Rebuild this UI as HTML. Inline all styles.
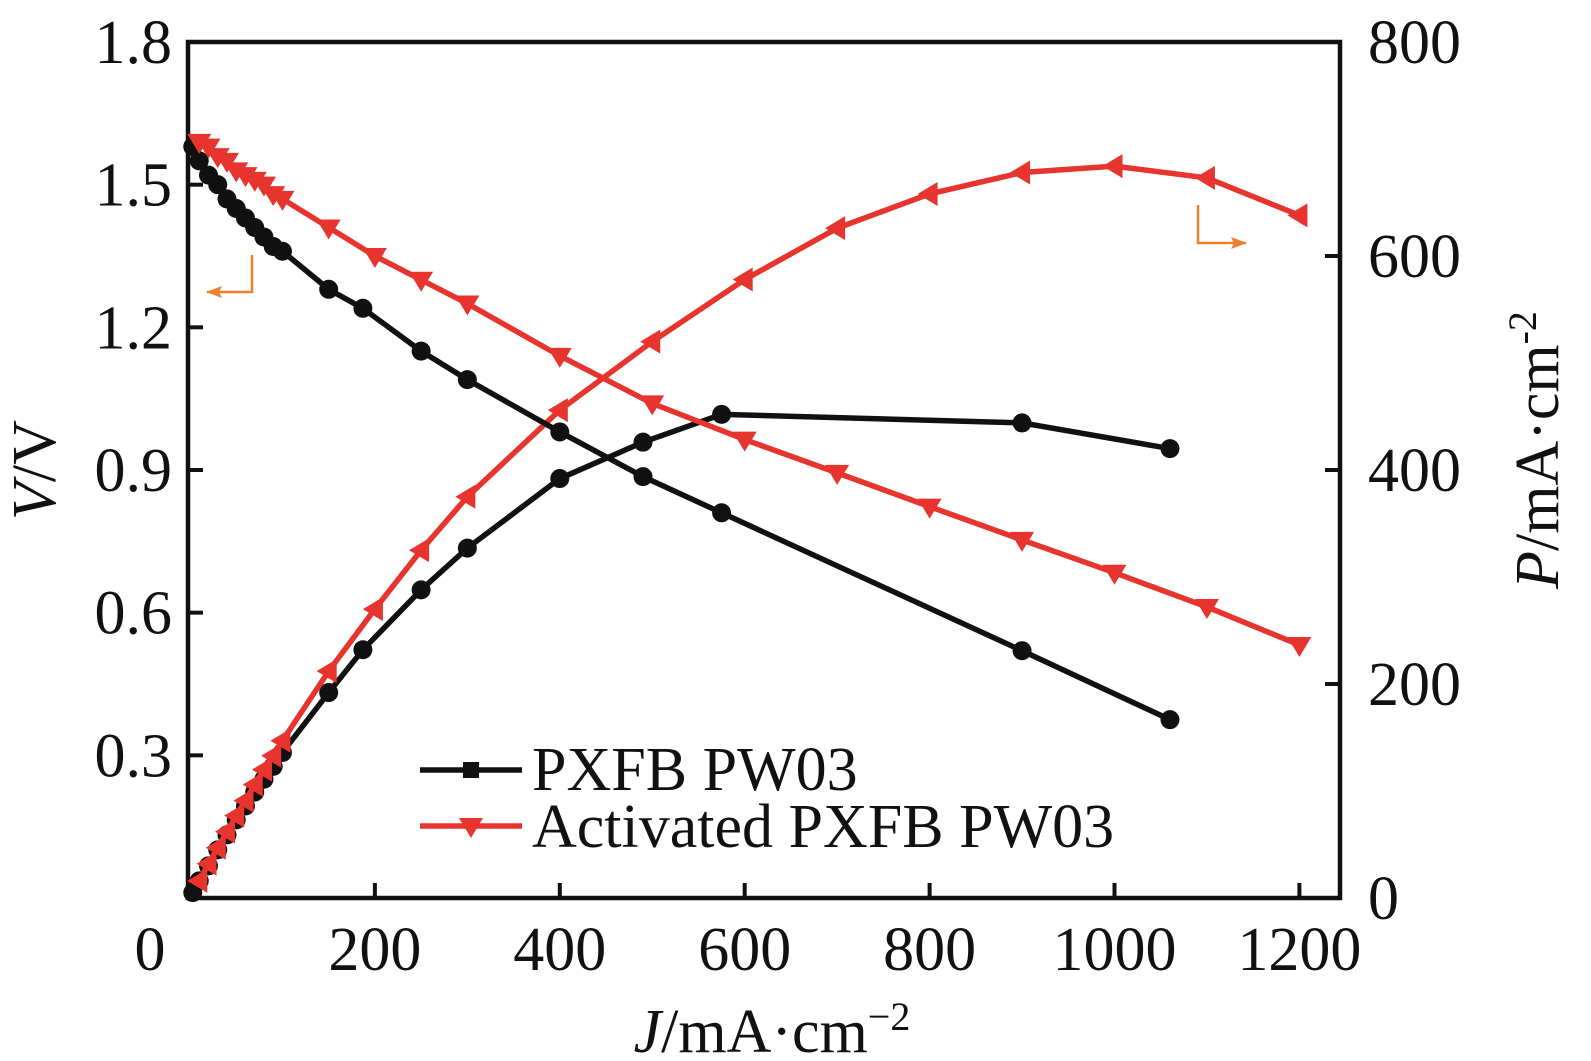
<!DOCTYPE html>
<html><head><meta charset="utf-8"><style>
html,body{margin:0;padding:0;background:#fff;}
svg{display:block;font-family:"Liberation Serif",serif;}
</style></head><body>
<svg id="chart" width="1591" height="1061">
<defs>
<marker id="arrL" markerWidth="16" markerHeight="12" refX="15" refY="6" orient="auto" markerUnits="userSpaceOnUse" viewBox="0 0 16 12"><path d="M0,0 L16,6 L0,12 L3,6 Z" fill="#f08030"/></marker>
</defs>
<g id="axes"></g>
<g id="series"></g>
</svg>
<script>
const jBlack=[3,10,20,30,40,50,60,70,80,90,100,150,187,250,300,400,490,575,900,1060];
const vBlack=[1.58,1.55,1.52,1.50,1.47,1.45,1.43,1.41,1.39,1.37,1.36,1.28,1.24,1.15,1.09,0.98,0.886,0.81,0.52,0.375];
const pBlack=[5,16,30,45,59,73,86,99,111,123,136,192,232,288,327,392,426,452,444,420];
const jRed=[10,20,30,40,50,60,70,80,90,100,150,200,250,300,400,500,600,700,800,900,1000,1100,1200];
const vRed=[1.59,1.58,1.56,1.55,1.53,1.52,1.51,1.50,1.48,1.47,1.41,1.35,1.30,1.25,1.14,1.04,0.964,0.894,0.823,0.753,0.684,0.612,0.532];
const pRed=[16,32,47,62,77,91,106,120,133,147,212,270,325,375,456,520,578,626,658,678,684,673,638];
const xTicks=[0,200,400,600,800,1000,1200];
const yLTicks=[0.3,0.6,0.9,1.2,1.5,1.8];
const yRTicks=[0,200,400,600,800];

const L=190,R=1340,T=42,B=898;
const xs=j=>L+j*0.9245;
const yl=v=>B-v/1.8*(B-T);
const yr=p=>B-p/800*(B-T);
const NS="http://www.w3.org/2000/svg";
const FS=62;
function mk(tag,attrs,parent){const e=document.createElementNS(NS,tag);for(const k in attrs)e.setAttribute(k,attrs[k]);parent.appendChild(e);return e;}
const ax=document.getElementById('axes'),se=document.getElementById('series');

let fr=mk('rect',{x:188,y:T,width:R-188,height:B-T,fill:'none',stroke:'#111','stroke-width':4.5},ax);


xTicks.forEach(t=>{
 let x=xs(t);
 if(t>0){let l=mk('line',{x1:x,y1:B,x2:x,y2:B-15,stroke:'#111','stroke-width':4},ax);
 
 }
 let tx=mk('text',{x:t===0?150:x,y:970,'font-size':FS,'text-anchor':'middle',fill:'#111'},ax);tx.textContent=t;
 
 
});
yLTicks.forEach(t=>{
 let y=yl(t);
 let l=mk('line',{x1:188,y1:y,x2:203,y2:y,stroke:'#111','stroke-width':4},ax);
 
 
 let tx=mk('text',{x:172,y:y+21,'font-size':FS,'text-anchor':'end',fill:'#111'},ax);tx.textContent=t.toFixed(1);
 
 
});
yRTicks.forEach(t=>{
 let y=yr(t);
 let l=mk('line',{x1:R,y1:y,x2:R-15,y2:y,stroke:'#111','stroke-width':4},ax);
 
 
 let tx=mk('text',{x:1368,y:y+21,'font-size':FS,'text-anchor':'start',fill:'#111'},ax);tx.textContent=t;
 
 
});
let xt=mk('text',{x:772,y:1052,'font-size':FS,'text-anchor':'middle',fill:'#111'},ax);
xt.innerHTML='<tspan font-style="italic">J</tspan>/mA·cm<tspan dy="-22" font-size="40">−2</tspan>';


let ylt=mk('text',{x:0,y:0,'font-size':FS,'text-anchor':'middle',fill:'#111',transform:'translate(55,470) rotate(-90)'},ax);
ylt.innerHTML='<tspan font-style="italic">V</tspan>/V';


let yrt=mk('text',{x:0,y:0,'font-size':FS,'text-anchor':'middle',fill:'#111',transform:'translate(1558,450) rotate(-90)'},ax);
yrt.innerHTML='<tspan font-style="italic">P</tspan>/mA·cm<tspan dy="-22" font-size="40">-2</tspan>';



function circle(x,y,p,name){let c=mk('circle',{cx:x,cy:y,r:9.5,fill:'#111'},p);
 
 }
function triDown(x,y,p,name){let c=mk('path',{d:`M${x-12},${y-8} L${x+12},${y-8} L${x},${y+12} Z`,fill:'#e8342e'},p);
 
 }
function triLeft(x,y,p,name){let c=mk('path',{d:`M${x-12},${y} L${x+8},${y-12} L${x+8},${y+12} Z`,fill:'#e8342e'},p);
 
 }
function series(js,vs,yf,color,marker,name){
 let pts=js.map((j,i)=>[xs(j),yf(vs[i])]);
 let pl=mk('polyline',{points:pts.map(p=>p.join(',')).join(' '),fill:'none',stroke:color,'stroke-width':5.5},se);
 
 
 pts.forEach(p=>marker(p[0],p[1],se,name+'-point'));
}
series(jBlack,pBlack,yr,'#111',circle,'pxfb-power');
series(jRed,pRed,yr,'#e8342e',triLeft,'activated-power');
series(jBlack,vBlack,yl,'#111',circle,'pxfb-voltage');
series(jRed,vRed,yl,'#e8342e',triDown,'activated-voltage');

// arrows
let a1=mk('polyline',{points:'252,255 252,292 207,292',fill:'none',stroke:'#f08030','stroke-width':2.5,'marker-end':'url(#arrL)'},ax);


let a2=mk('polyline',{points:'1198,205 1198,243 1246,243',fill:'none',stroke:'#f08030','stroke-width':2.5,'marker-end':'url(#arrL)'},ax);



// legend
let lg=mk('g',{},se);


let l1=mk('line',{x1:420,y1:770,x2:522,y2:770,stroke:'#111','stroke-width':5.5},lg);


let s1=mk('rect',{x:463,y:762,width:16,height:16,fill:'#111'},lg);


let t1=mk('text',{x:532,y:790,'font-size':FS,fill:'#111'},lg);t1.textContent='PXFB PW03';


let l2=mk('line',{x1:420,y1:826,x2:522,y2:826,stroke:'#e8342e','stroke-width':5.5},lg);


triDown(471,826,lg,'legend-marker-activated');
let t2=mk('text',{x:532,y:847,'font-size':FS,fill:'#111'},lg);t2.textContent='Activated PXFB PW03';


</script>
</body></html>
